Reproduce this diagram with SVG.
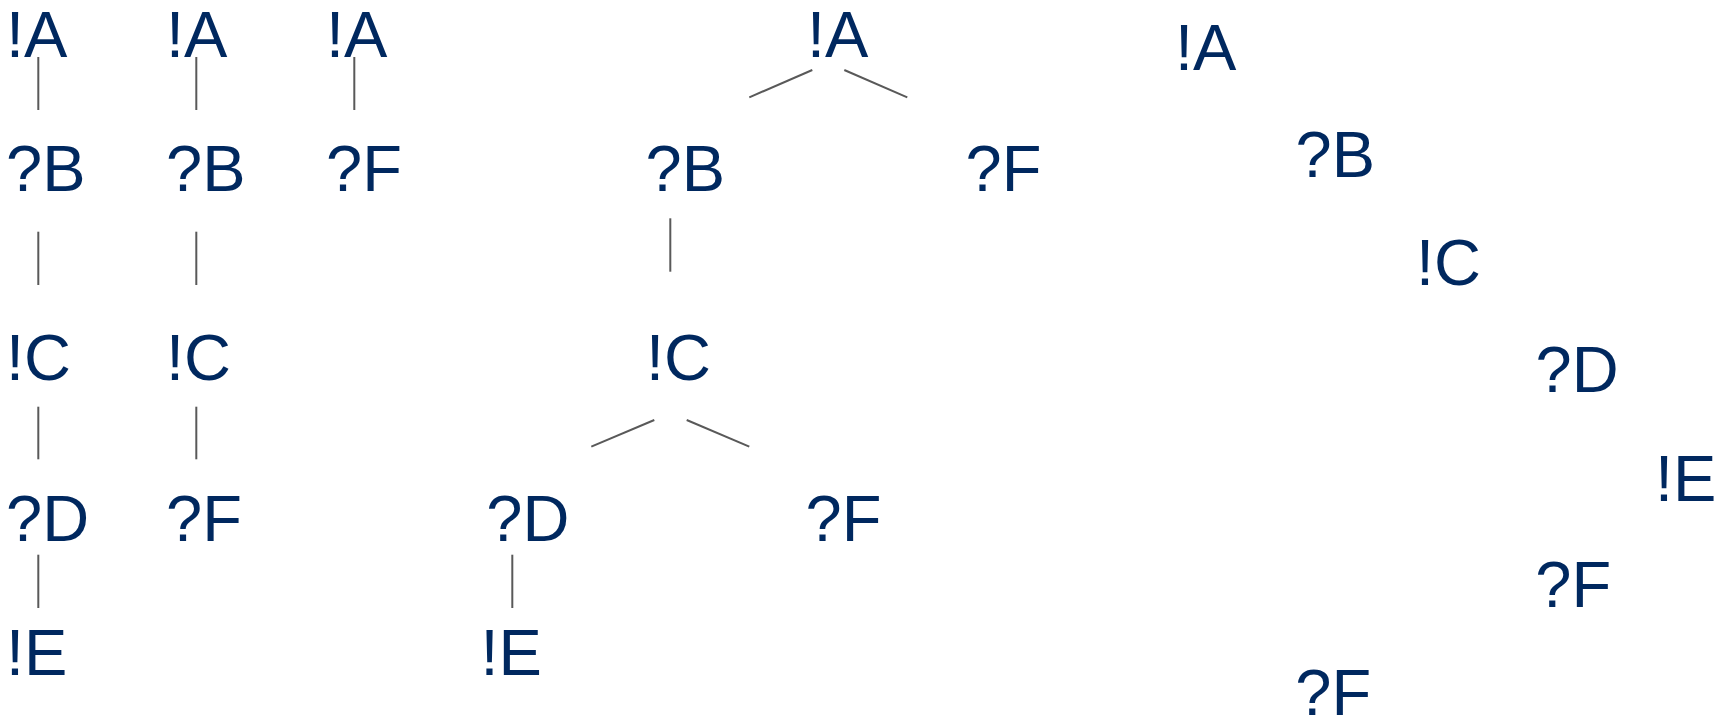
<svg xmlns="http://www.w3.org/2000/svg" width="1728" height="719" viewBox="0 0 1728 719">
<style>
text{font-family:"Liberation Sans",Arial,sans-serif;font-size:65px;fill:#00285f}
.c line{stroke:#595959;stroke-width:2}
</style>
<rect width="1728" height="719" fill="#fff"/>
<g class="c" id="connectors">
<line x1="38.3" y1="57" x2="38.3" y2="110"/>
<line x1="38.3" y1="231.7" x2="38.3" y2="285"/>
<line x1="38.3" y1="406.7" x2="38.3" y2="459.3"/>
<line x1="38.3" y1="554.7" x2="38.3" y2="608"/>
<line x1="196.3" y1="57" x2="196.3" y2="110"/>
<line x1="196.3" y1="231.7" x2="196.3" y2="285"/>
<line x1="196.3" y1="406.7" x2="196.3" y2="459.3"/>
<line x1="354.3" y1="57" x2="354.3" y2="110"/>
<line x1="812.3" y1="70" x2="749.3" y2="97.3"/>
<line x1="844.3" y1="70" x2="907.3" y2="97.3"/>
<line x1="670.3" y1="218.3" x2="670.3" y2="271.7"/>
<line x1="654.3" y1="420" x2="591.3" y2="446.7"/>
<line x1="686.7" y1="420" x2="749.3" y2="446.7"/>
<line x1="512.3" y1="554.7" x2="512.3" y2="608"/>
</g>
<g id="t1-A"><text x="6" y="57">!A</text></g>
<g id="t1-B"><text x="6" y="191">?B</text></g>
<g id="t1-C"><text x="6" y="380">!C</text></g>
<g id="t1-D"><text x="6" y="541">?D</text></g>
<g id="t1-E"><text x="6" y="675">!E</text></g>
<g id="t2-A"><text x="166" y="57">!A</text></g>
<g id="t2-B"><text x="166" y="191">?B</text></g>
<g id="t2-C"><text x="166" y="380">!C</text></g>
<g id="t2-F"><text x="166" y="541">?F</text></g>
<g id="t3-A"><text x="326" y="57">!A</text></g>
<g id="t3-F"><text x="326" y="191">?F</text></g>
<g id="t4-A"><text x="807" y="57">!A</text></g>
<g id="t4-B"><text x="645.6" y="191">?B</text></g>
<g id="t4-F1"><text x="965.6" y="191">?F</text></g>
<g id="t4-C"><text x="646" y="380">!C</text></g>
<g id="t4-D"><text x="486.3" y="541">?D</text></g>
<g id="t4-F2"><text x="805.6" y="541">?F</text></g>
<g id="t4-E"><text x="480.4" y="675">!E</text></g>
<g id="t5-A"><text x="1175" y="70">!A</text></g>
<g id="t5-B"><text x="1295.6" y="177.3">?B</text></g>
<g id="t5-C"><text x="1416" y="285">!C</text></g>
<g id="t5-D"><text x="1535.6" y="392.3">?D</text></g>
<g id="t5-E"><text x="1655" y="500.7">!E</text></g>
<g id="t5-F1"><text x="1535.3" y="607.3">?F</text></g>
<g id="t5-F2"><text x="1295.3" y="715">?F</text></g>
</svg>
